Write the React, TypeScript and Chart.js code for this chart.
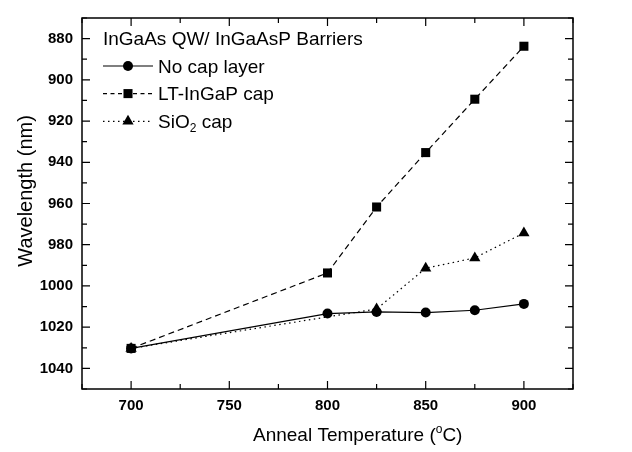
import React, { useEffect, useRef } from "react";
import { Chart, registerables } from "chart.js";

Chart.register(...registerables);

// ---- data ----
const noCapTemps = [700, 800, 825, 850, 875, 900];
const noCapWavelength = [1030.3, 1013.4, 1012.6, 1012.9, 1011.8, 1008.7];
const ltTemps = [700, 800, 825, 850, 875, 900];
const ltWavelength = [1030.3, 993.7, 961.7, 935.3, 909.4, 883.7];
const sioTemps = [700, 825, 850, 875, 900];
const sioWavelength = [1030.3, 1011.2, 991.4, 986.4, 974.3];

const seriesLabels = ["No cap layer", "LT-InGaP cap", "SiO₂ cap"];
const legendTitle = "InGaAs QW/ InGaAsP Barriers";
const xTitle = ["Anneal Temperature (", "o", "C)"];
const yTitle = "Wavelength (nm)";

const xTicks = [700, 750, 800, 850, 900];
const xMinorTicks = [675, 725, 775, 825, 875, 925];
const yTicks = [880, 900, 920, 940, 960, 980, 1000, 1020, 1040];
const yMinorTicks = [870, 890, 910, 930, 950, 970, 990, 1010, 1030, 1050];

const FONT = "'Liberation Sans', Arial, sans-serif";

function drawMarker(ctx: CanvasRenderingContext2D, style: string, x: number, y: number, r: number) {
  ctx.beginPath();
  if (style === "circle") {
    ctx.arc(x, y, r, 0, Math.PI * 2);
  } else if (style === "rect") {
    const s = r * Math.SQRT1_2;
    ctx.rect(x - s, y - s, 2 * s, 2 * s);
  } else if (style === "triangle") {
    let rad = 0;
    ctx.moveTo(x + Math.sin(rad) * r, y - Math.cos(rad) * r);
    rad += (2 * Math.PI) / 3;
    ctx.lineTo(x + Math.sin(rad) * r, y - Math.cos(rad) * r);
    rad += (2 * Math.PI) / 3;
    ctx.lineTo(x + Math.sin(rad) * r, y - Math.cos(rad) * r);
    ctx.closePath();
  }
  ctx.fill();
}

const decorPlugin = {
  id: "decor",
  afterDatasetsDraw(chart: any) {
    const { ctx, chartArea: a, scales } = chart;
    const xs = scales.x;
    const ys = scales.y;
    ctx.save();
    ctx.strokeStyle = "#000";
    ctx.fillStyle = "#000";
    ctx.setLineDash([]);
    // frame
    ctx.lineWidth = 1.5;
    ctx.strokeRect(a.left, a.top, a.right - a.left, a.bottom - a.top);
    // inward ticks on all four sides
    ctx.lineWidth = 1.2;
    const hTicks = (vals: number[], len: number) => {
      vals.forEach((v) => {
        const px = xs.getPixelForValue(v);
        ctx.beginPath();
        ctx.moveTo(px, a.bottom);
        ctx.lineTo(px, a.bottom - len);
        ctx.moveTo(px, a.top);
        ctx.lineTo(px, a.top + len);
        ctx.stroke();
      });
    };
    const vTicks = (vals: number[], len: number) => {
      vals.forEach((v) => {
        const py = ys.getPixelForValue(v);
        ctx.beginPath();
        ctx.moveTo(a.left, py);
        ctx.lineTo(a.left + len, py);
        ctx.moveTo(a.right, py);
        ctx.lineTo(a.right - len, py);
        ctx.stroke();
      });
    };
    hTicks(xTicks, 8);
    hTicks(xMinorTicks, 5);
    vTicks(yTicks, 8);
    vTicks(yMinorTicks, 5);

    // legend
    ctx.font = `19px ${FONT}`;
    ctx.textAlign = "left";
    ctx.textBaseline = "alphabetic";
    ctx.fillText(legendTitle, 103, 45);
    const baselines = [72.7, 100.3, 128];
    chart.data.datasets.forEach((ds: any, i: number) => {
      const by = baselines[i];
      const ly = by - 6.7;
      ctx.save();
      ctx.lineWidth = 1.2;
      ctx.setLineDash(ds.legendDash || []);
      ctx.beginPath();
      ctx.moveTo(103, ly);
      ctx.lineTo(153, ly);
      ctx.stroke();
      ctx.restore();
      drawMarker(ctx, ds.pointStyle, 128, ly, ds.pointRadius);
      // label with subscript support
      const label: string = ds.label;
      let x = 158;
      const parts = label.split("₂");
      parts.forEach((p, k) => {
        ctx.font = `19px ${FONT}`;
        ctx.fillText(p, x, by);
        x += ctx.measureText(p).width;
        if (k < parts.length - 1) {
          ctx.font = `12px ${FONT}`;
          ctx.fillText("2", x, by + 4);
          x += ctx.measureText("2").width;
        }
      });
    });

    // x title with superscript
    let tx = 253;
    ctx.font = `19px ${FONT}`;
    ctx.fillText(xTitle[0], tx, 441);
    tx += ctx.measureText(xTitle[0]).width;
    ctx.font = `12px ${FONT}`;
    ctx.fillText(xTitle[1], tx, 433);
    tx += ctx.measureText(xTitle[1]).width;
    ctx.font = `19px ${FONT}`;
    ctx.fillText(xTitle[2], tx, 441);

    // y title rotated
    ctx.save();
    ctx.translate(31.5, 266.7);
    ctx.rotate(-Math.PI / 2);
    ctx.font = `20px ${FONT}`;
    ctx.fillText(yTitle, 0, 0);
    ctx.restore();

    ctx.restore();
  },
};

export default function App() {
  const ref = useRef<HTMLCanvasElement | null>(null);
  useEffect(() => {
    document.body.style.margin = "0";
    if (!ref.current) return;
    const toPts = (xs: number[], ys: number[]) => xs.map((x, i) => ({ x, y: ys[i] }));
    const chart = new Chart(ref.current, {
      type: "line",
      data: {
        datasets: [
          {
            label: seriesLabels[0],
            data: toPts(noCapTemps, noCapWavelength),
            borderColor: "#000",
            backgroundColor: "#000",
            borderWidth: 1.2,
            pointStyle: "circle",
            pointRadius: 5,
            pointBorderWidth: 0,
            legendDash: [],
          } as any,
          {
            label: seriesLabels[1],
            data: toPts(ltTemps, ltWavelength),
            borderColor: "#000",
            backgroundColor: "#000",
            borderWidth: 1.2,
            borderDash: [6, 4],
            pointStyle: "rect",
            pointRadius: 6.4,
            pointBorderWidth: 0,
            legendDash: [4, 3.5],
          } as any,
          {
            label: seriesLabels[2],
            data: toPts(sioTemps, sioWavelength),
            borderColor: "#000",
            backgroundColor: "#000",
            borderWidth: 1.2,
            borderDash: [1.5, 3.5],
            pointStyle: "triangle",
            pointRadius: 6.5,
            pointBorderWidth: 0,
            legendDash: [1.5, 3.5],
          } as any,
        ],
      },
      options: {
        responsive: false,
        animation: false,
        events: [],
        layout: { padding: { top: 9, right: 59, left: 0, bottom: 0 } },
        plugins: { legend: { display: false }, tooltip: { enabled: false } },
        scales: {
          x: {
            type: "linear",
            min: 675,
            max: 925,
            afterBuildTicks: (s: any) => {
              s.ticks = xTicks.map((v) => ({ value: v }));
            },
            afterFit: (s: any) => {
              s.height = 63;
            },
            grid: { display: false, drawTicks: false },
            border: { display: false },
            ticks: {
              color: "#000",
              padding: 8,
              maxRotation: 0,
              autoSkip: false,
              callback: (v: any) => String(v),
              font: { family: FONT, size: 15, weight: "bold" },
            },
          },
          y: {
            type: "linear",
            reverse: true,
            min: 870,
            max: 1050,
            afterBuildTicks: (s: any) => {
              s.ticks = yTicks.map((v) => ({ value: v }));
            },
            afterFit: (s: any) => {
              s.width = 82;
            },
            grid: { display: false, drawTicks: false },
            border: { display: false },
            ticks: {
              color: "#000",
              padding: 9,
              autoSkip: false,
              callback: (v: any) => String(v),
              font: { family: FONT, size: 15, weight: "bold" },
            },
          },
        },
      },
      plugins: [decorPlugin],
    });
    return () => chart.destroy();
  }, []);
  return <canvas ref={ref} width={632} height={452} style={{ display: "block" }} />;
}
